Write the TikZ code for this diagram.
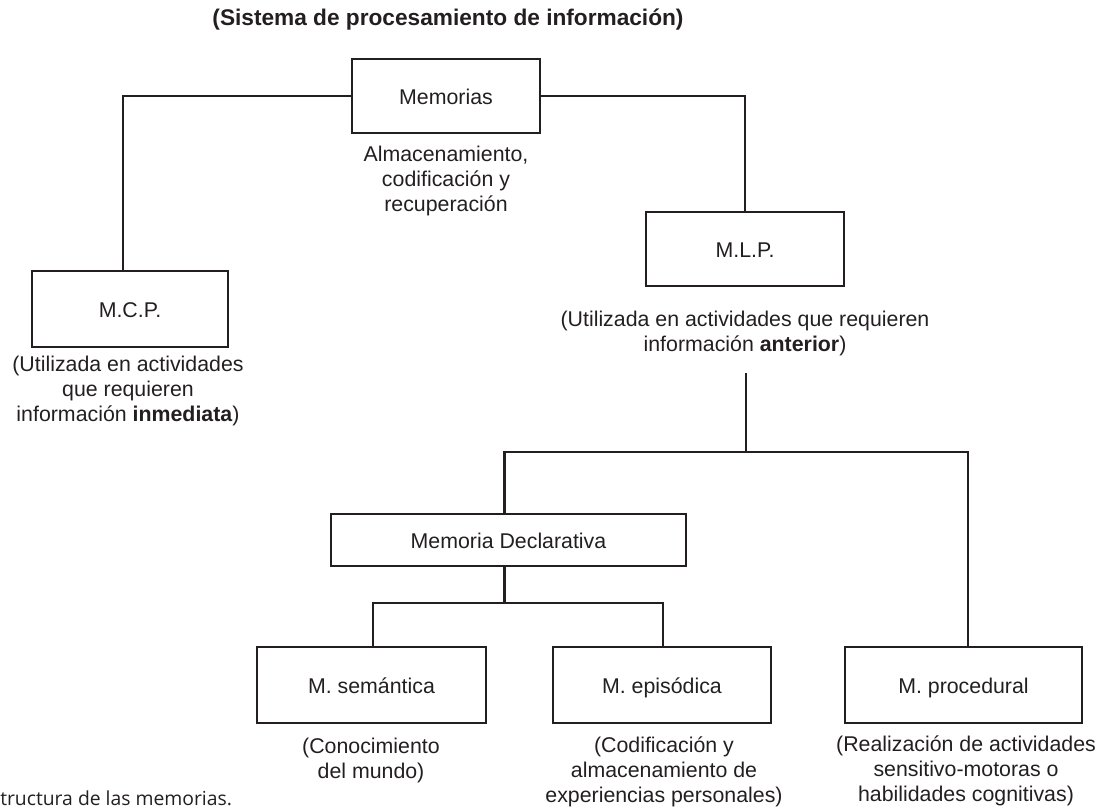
\documentclass[tikz,border=0pt]{standalone}
\usepackage{fontspec}
\setmainfont{Liberation Sans}
\newfontfamily\capfont{Open Sans}
\usetikzlibrary{calc}
\definecolor{ink}{HTML}{231F20}
\tikzset{
  box/.style={draw=ink, line width=2.1pt, inner sep=0pt, outer sep=0pt, text=ink,
    text height=14pt, text depth=1.3pt,
    font=\fontsize{16}{18.75}\selectfont},
  note/.style={align=center, inner sep=0pt, text=ink, font=\fontsize{16}{18.75}\selectfont},
  conn/.style={draw=ink, line width=2.1pt}
}
\begin{document}
\begin{tikzpicture}[x=0.75pt, y=-0.75pt]
\useasboundingbox (0,0) rectangle (1109,808);
% title
\node[text=ink, font=\fontsize{17}{20}\selectfont\bfseries] (title) at (448,20) {(Sistema de procesamiento de información)};
% boxes
\node[box, minimum width=141pt, minimum height=55.5pt] (mem) at (446,96) {Memorias};
\node[box, minimum width=147pt, minimum height=57pt] (mcp) at (130,309) {M.C.P.};
\node[box, minimum width=148.5pt, minimum height=55.5pt] (mlp) at (745,249) {M.L.P.};
\node[box, minimum width=266.25pt, minimum height=39pt] (decl) at (508.5,540) {Memoria Declarativa};
\node[box, minimum width=171.75pt, minimum height=57pt] (sem) at (371.5,685) {M. semántica};
\node[box, minimum width=163.5pt, minimum height=57pt] (epi) at (662,685) {M. episódica};
\node[box, minimum width=177.75pt, minimum height=57pt] (proc) at (963.5,685) {M. procedural};
% notes
\node[note] (alm) at (446,181) {Almacenamiento,\\codificación y\\recuperación};
\node[note] (mcpcap) at (128,391) {(Utilizada en actividades\\que requieren\\información \textbf{inmediata})};
\node[note] (mlpcap) at (745,333) {(Utilizada en actividades que requieren\\información \textbf{anterior})};
\node[note] (semcap) at (371,760) {(Conocimiento\\del mundo)};
\node[note] (epicap) at (664,772) {(Codificación y\\almacenamiento de\\experiencias personales)};
\node[note] (proccap) at (966,771) {(Realización de actividades\\sensitivo-motoras o\\habilidades cognitivas)};
\node[anchor=west, inner sep=0pt, text=ink, font=\capfont\fontsize{14.5}{17}\selectfont] (fig) at (0,798) {tructura de las memorias.};
% connectors
\draw[conn] (mem.west) -| ($(mcp.north)+(-7,0)$);
\draw[conn] (mem.east) -| (mlp.north);
\coordinate (b1) at (746,373);
\coordinate (b2) at (746,452);
\draw[conn] (b1) -- (b2);
\draw[conn] ($(decl.north)+(-4,0)$) |- (b2) -| ($(proc.north)+(4.5,0)$);
\coordinate (b3) at ($(decl.south)+(-4,37)$);
\draw[conn] ($(decl.south)+(-4,0)$) -- (b3);
\draw[conn] ($(sem.north)+(1.5,0)$) |- (b3) -| ($(epi.north)+(1,0)$);
\end{tikzpicture}
\end{document}
